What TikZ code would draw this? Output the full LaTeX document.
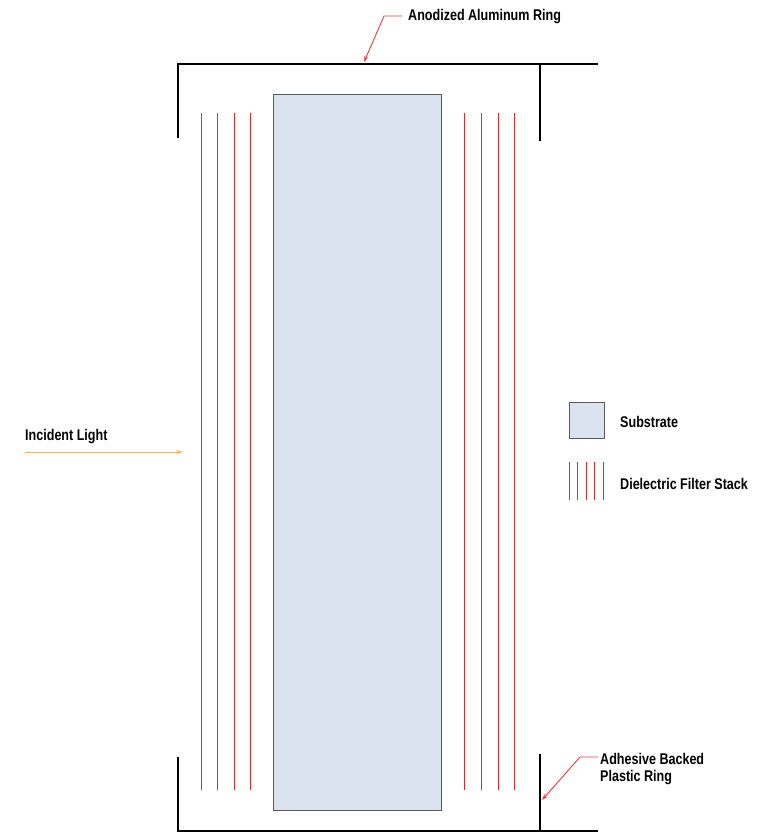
\documentclass[tikz,border=0pt]{standalone}
\usepackage{fontspec}
\setmainfont{Liberation Sans}
\newfontfamily\labelfont{Liberation Sans Bold}[FakeStretch=0.81]
\usetikzlibrary{arrows.meta}
\definecolor{substratefill}{HTML}{DAE3EF}
\definecolor{filterred}{HTML}{E8262E}
\definecolor{lightorange}{HTML}{FDB347}
\definecolor{callred}{HTML}{EE3B3B}

\begin{document}
\begin{tikzpicture}[x=1pt, y=-1pt, >={Stealth[length=6pt,width=4pt]},
  ring/.style={draw=black, line width=2pt},
  layer/.style={draw=filterred, line width=1pt},
  callout/.style={draw=callred, line width=0.9pt, ->},
  label/.style={font=\labelfont\fontsize{15.5}{16.5}\selectfont, anchor=west, inner sep=2pt},
  substrate/.style={draw=black!65, fill=substratefill, line width=1pt}]
  \useasboundingbox (0,0) rectangle (780,840);

  % Define rings
  \draw [ring] (178,138) -- (178,64) -- (598,64);
  \draw [ring] (540,64) -- (540,141);
  \draw [ring] (178,757) -- (178,831) -- (598,831);
  \draw [ring] (540,754) -- (540,831);

  % Substrate and filter stacks
  \node [substrate, minimum width=168pt, minimum height=715pt, inner sep=0pt] (sub) at (357,452.5) {};
  \foreach \x in {201,217,234,250,464,481,498,514}
    \draw [layer] (\x,113) -- (\x,790);

  % Labels
  \node [label] (ring) at (406,17) {Anodized Aluminum Ring};
  \node [label, align=left] (plastic) at (598,769) {Adhesive Backed\\Plastic Ring};
  \node [label] (light) at (23,437) {Incident Light};
  \coordinate (ringtip) at (364,62);
  \coordinate (plastictip) at (542,800);
  \coordinate (lightstart) at (25,452);
  \coordinate (lightend) at (183,452);

  % Connect labels with arrows
  \draw [callout] (402,16) -- (384,16) -- (ringtip);
  \draw [callout] (598,757) -- (580,757) -- (plastictip);
  \draw [->, draw=lightorange, line width=1pt, >={Stealth[length=7pt,width=4pt]}] (lightstart) -- (lightend);

  % Legend
  \node [substrate, minimum width=35pt, minimum height=36pt, inner sep=0pt] (key) at (586.5,420) {};
  \node [label] (keytext) at (618,422) {Substrate};
  \foreach \x in {569,577.5,586,594.5,603}
    \draw [layer] (\x,462) -- (\x,500);
  \node [label] (stacktext) at (618,484) {Dielectric Filter Stack};
\end{tikzpicture}
\end{document}
